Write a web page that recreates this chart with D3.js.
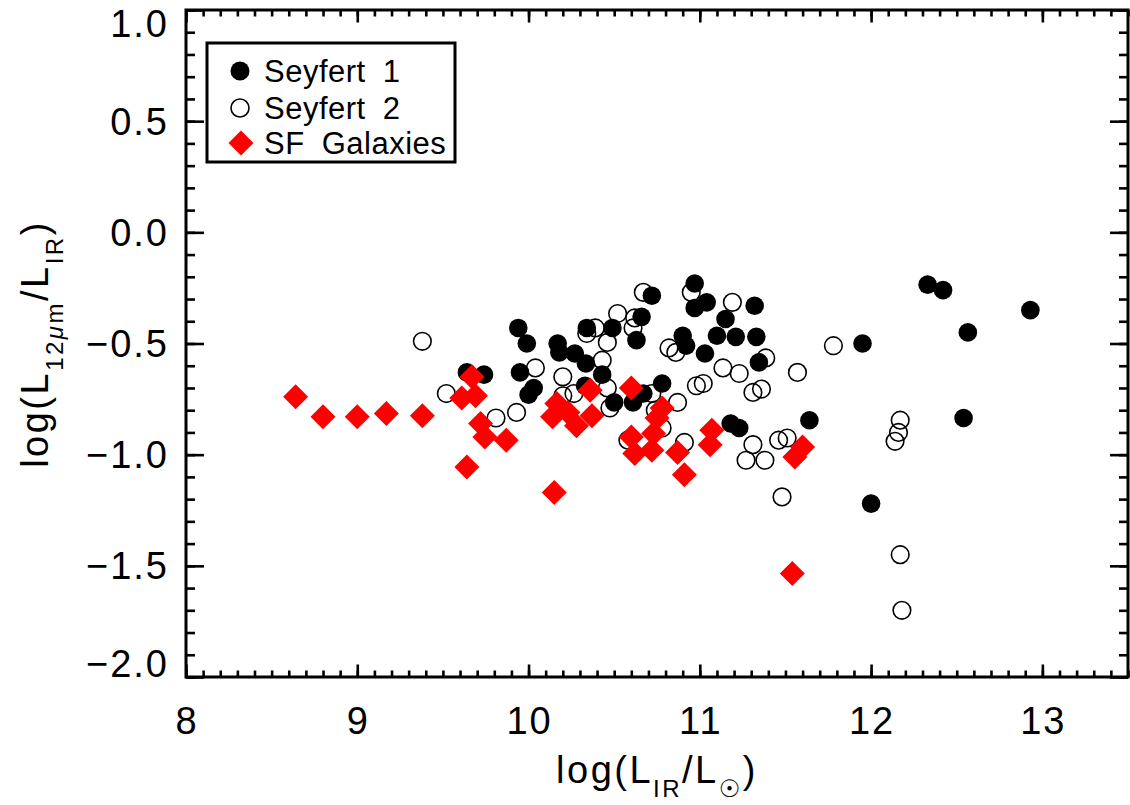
<!DOCTYPE html>
<html>
<head>
<meta charset="utf-8">
<script src="https://cdn.jsdelivr.net/npm/d3@7"></script>
<style>
  body { margin: 0; background: #fff; }
  svg text { font-family: "Liberation Sans", Arial, sans-serif; fill: #000; }
</style>
</head>
<body>
<svg id="chart" width="1130" height="805"></svg>
<script>
// Data: [log(L_IR/Lsun), log(L_12um/L_IR)]
const seyfert1 = [
  [9.64, -0.63], [9.74, -0.64], [9.94, -0.43], [9.99, -0.50], [9.95, -0.63],
  [10.03, -0.70], [10.00, -0.73], [10.17, -0.50], [10.18, -0.54], [10.27, -0.545],
  [10.335, -0.59], [10.34, -0.43], [10.33, -0.69], [10.49, -0.43], [10.66, -0.38],
  [10.72, -0.285], [10.63, -0.485], [10.43, -0.64], [10.50, -0.765], [10.61, -0.765],
  [10.67, -0.725], [10.78, -0.68], [10.97, -0.23], [10.97, -0.34], [11.04, -0.315],
  [11.15, -0.39], [10.90, -0.465], [10.92, -0.51], [11.03, -0.545], [11.10, -0.465],
  [11.21, -0.47], [11.32, -0.33], [11.33, -0.47], [11.345, -0.585], [11.18, -0.86],
  [11.23, -0.88], [11.64, -0.845], [11.95, -0.50], [12.33, -0.235], [12.42, -0.26],
  [12.565, -0.45], [12.93, -0.35], [12.54, -0.835], [12.00, -1.22]
];

const seyfert2 = [
  [9.38, -0.49], [9.52, -0.725], [9.81, -0.835], [9.93, -0.81], [10.04, -0.61],
  [10.20, -0.65], [10.20, -0.735], [10.265, -0.725], [10.34, -0.455], [10.39, -0.43],
  [10.52, -0.365], [10.46, -0.495], [10.43, -0.575], [10.62, -0.385], [10.61, -0.43],
  [10.67, -0.27], [10.46, -0.70], [10.475, -0.79], [10.72, -0.725], [10.74, -0.80],
  [10.87, -0.765], [10.58, -0.935], [10.78, -0.88], [10.91, -0.945], [10.82, -0.52],
  [10.86, -0.54], [10.95, -0.27], [11.19, -0.315], [11.135, -0.61], [11.23, -0.635],
  [10.98, -0.69], [11.02, -0.68], [11.31, -0.72], [11.36, -0.705], [11.27, -1.025],
  [11.38, -1.025], [11.31, -0.955], [11.46, -0.935], [11.51, -0.925], [11.385, -0.565],
  [11.57, -0.63], [11.48, -1.19], [11.78, -0.51], [12.17, -0.845], [12.16, -0.90],
  [12.14, -0.94], [12.17, -1.45], [12.18, -1.70]
];

const sfGalaxies = [
  [8.64, -0.74], [8.80, -0.83], [9.00, -0.83], [9.17, -0.815], [9.38, -0.825],
  [9.67, -0.65], [9.61, -0.745], [9.69, -0.735], [9.72, -0.86], [9.745, -0.92],
  [9.87, -0.935], [9.64, -1.055], [10.15, -1.17], [10.165, -0.77], [10.14, -0.83],
  [10.23, -0.81], [10.28, -0.87], [10.36, -0.71], [10.37, -0.825], [10.60, -0.70],
  [10.78, -0.79], [10.75, -0.835], [10.73, -0.905], [10.60, -0.92], [10.62, -0.995],
  [10.72, -0.98], [10.87, -0.99], [10.91, -1.09], [11.07, -0.89], [11.06, -0.955],
  [11.60, -0.965], [11.555, -1.01], [11.54, -1.535]
];

const xTicks = [8, 9, 10, 11, 12, 13];
const yTicks = [1.0, 0.5, 0.0, -0.5, -1.0, -1.5, -2.0];
const legendLabels = ["Seyfert 1", "Seyfert 2", "SF Galaxies"];

const svg = d3.select("#chart");
const frame = { left: 186, right: 1128, top: 10, bottom: 677 };

svg.append("rect")
  .attr("width", 1130)
  .attr("height", 805)
  .attr("fill", "#fff");

const x = d3.scaleLinear().domain([8, 13.5]).range([frame.left, frame.right]);
const y = d3.scaleLinear().domain([-2, 1]).range([frame.bottom, frame.top]);

// Minor ticks every 0.1 on both axes, majors from the tick lists
const xMinor = x.ticks(55);
const yMinor = y.ticks(30);

function tickAxis(axis, transform, size, values) {
  const g = svg.append("g")
    .attr("transform", transform)
    .call(axis.tickValues(values).tickSize(size).tickSizeOuter(0).tickFormat(""));
  g.select(".domain").remove();
  g.selectAll("line").attr("stroke", "#000").attr("stroke-width", 2.6);
}

// x ticks: longer majors, short minors, on bottom and top
tickAxis(d3.axisBottom(x), `translate(0,${frame.bottom})`, -12.5, xTicks);
tickAxis(d3.axisBottom(x), `translate(0,${frame.bottom})`, -6.5, xMinor);
tickAxis(d3.axisTop(x), `translate(0,${frame.top})`, -12.5, xTicks);
tickAxis(d3.axisTop(x), `translate(0,${frame.top})`, -6.5, xMinor);
// y ticks on left and right
tickAxis(d3.axisLeft(y), `translate(${frame.left},0)`, -18, yTicks);
tickAxis(d3.axisLeft(y), `translate(${frame.left},0)`, -9, yMinor);
tickAxis(d3.axisRight(y), `translate(${frame.right},0)`, -18, yTicks);
tickAxis(d3.axisRight(y), `translate(${frame.right},0)`, -9, yMinor);

// Plot frame
svg.append("rect")
  .attr("x", frame.left)
  .attr("y", frame.top)
  .attr("width", frame.right - frame.left)
  .attr("height", frame.bottom - frame.top)
  .attr("fill", "none")
  .attr("stroke", "#000")
  .attr("stroke-width", 3);

// Tick labels
const fmt = d3.format(".1f");
svg.append("g").selectAll("text")
  .data(xTicks)
  .join("text")
  .attr("x", d => x(d) + 1)
  .attr("y", 734)
  .attr("text-anchor", "middle")
  .attr("font-size", 38)
  .attr("letter-spacing", 2)
  .text(d => d);

// end labels sit inside the frame: top one hangs, bottom one sits on its tick
svg.append("g").selectAll("text")
  .data(yTicks)
  .join("text")
  .attr("x", 169)
  .attr("y", d => y(d) + (d === 1 ? 27 : d === -2 ? 0 : 13.5))
  .attr("text-anchor", "end")
  .attr("font-size", 38)
  .attr("letter-spacing", 2)
  .text(d => fmt(d));

// Axis titles
const xTitle = svg.append("text")
  .attr("x", 657)
  .attr("y", 783)
  .attr("text-anchor", "middle")
  .attr("font-size", 38)
  .attr("letter-spacing", 2.5);
xTitle.append("tspan").text("log(L");
xTitle.append("tspan").attr("font-size", 24).attr("dy", 14).text("IR");
xTitle.append("tspan").attr("dy", -14).text("/L");
xTitle.append("tspan").attr("font-size", 24).attr("dy", 14)
  .attr("font-family", "DejaVu Sans").text("\u2609");
xTitle.append("tspan").attr("dy", -14).text(")");

const yTitle = svg.append("text")
  .attr("transform", "translate(48,344) rotate(-90)")
  .attr("text-anchor", "middle")
  .attr("font-size", 38)
  .attr("letter-spacing", 2.5);
yTitle.append("tspan").text("log(L");
yTitle.append("tspan").attr("font-size", 24).attr("dy", 15).text("12");
yTitle.append("tspan").attr("font-size", 24).attr("font-style", "italic").text("\u03bc");
yTitle.append("tspan").attr("font-size", 24).text("m");
yTitle.append("tspan").attr("dy", -15).text("/L");
yTitle.append("tspan").attr("font-size", 24).attr("dy", 15).text("IR");
yTitle.append("tspan").attr("dy", -15).text(")");

// Markers
const diamond = "M0,-12.5L12.5,0L0,12.5L-12.5,0Z";

svg.append("g").selectAll("circle")
  .data(seyfert2)
  .join("circle")
  .attr("cx", d => x(d[0]))
  .attr("cy", d => y(d[1]))
  .attr("r", 8.8)
  .attr("fill", "none")
  .attr("stroke", "#000")
  .attr("stroke-width", 1.6);

svg.append("g").selectAll("circle")
  .data(seyfert1)
  .join("circle")
  .attr("cx", d => x(d[0]))
  .attr("cy", d => y(d[1]))
  .attr("r", 9.3)
  .attr("fill", "#000");

svg.append("g").selectAll("path")
  .data(sfGalaxies)
  .join("path")
  .attr("transform", d => `translate(${x(d[0])},${y(d[1])})`)
  .attr("d", diamond)
  .attr("fill", "#ff0000");

// Legend
const legend = svg.append("g");
legend.append("rect")
  .attr("x", 207)
  .attr("y", 43)
  .attr("width", 248)
  .attr("height", 119)
  .attr("fill", "#fff")
  .attr("stroke", "#000")
  .attr("stroke-width", 3);

const legendY = [71, 108, 143];
legend.append("circle").attr("cx", 240).attr("cy", legendY[0]).attr("r", 9.5).attr("fill", "#000");
legend.append("circle").attr("cx", 240).attr("cy", legendY[1]).attr("r", 9)
  .attr("fill", "none").attr("stroke", "#000").attr("stroke-width", 1.6);
legend.append("path").attr("transform", `translate(241,${legendY[2]})`)
  .attr("d", diamond).attr("fill", "#ff0000");

legend.selectAll("text.lab")
  .data(legendLabels)
  .join("text")
  .attr("class", "lab")
  .attr("x", 264)
  .attr("y", (d, i) => legendY[i] + 11)
  .attr("font-size", 31)
  .attr("word-spacing", 8)
  .attr("letter-spacing", 0.5)
  .text(d => d);
</script>
</body>
</html>
